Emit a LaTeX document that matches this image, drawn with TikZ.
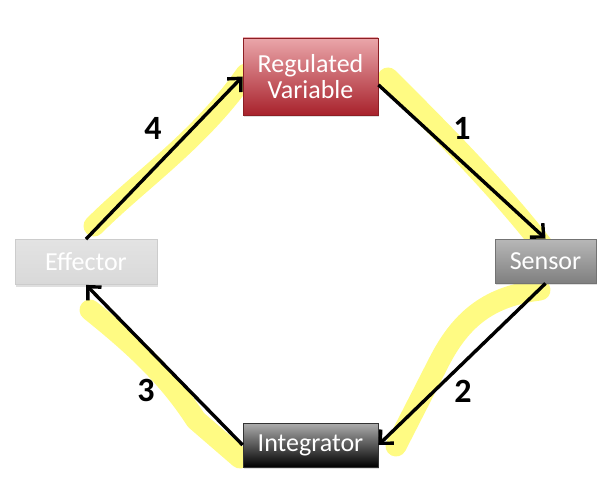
\documentclass[tikz,border=0pt]{standalone}
\usepackage{fontspec}
\setmainfont{Carlito}
\usetikzlibrary{arrows.meta,shadows}

\definecolor{rvtop}{RGB}{234,166,170}
\definecolor{rvbot}{RGB}{168,34,44}
\definecolor{rvline}{RGB}{140,30,36}
\definecolor{hilite}{RGB}{255,250,100}

\tikzset{
  box/.style={draw, rectangle, line width=0.8pt, text=white, align=center,
    font=\fontsize{26}{29}\selectfont, inner sep=0pt,
    drop shadow={opacity=0.25, shadow xshift=1pt, shadow yshift=-2pt}},
  flow/.style={line width=3.4pt, -{Straight Barb[length=10pt,width=19pt,line width=3.4pt]}},
  marker/.style={hilite, line width=21pt, line cap=round, line join=round, opacity=0.8},
  num/.style={font=\fontsize{34}{36}\selectfont\bfseries}
}

\begin{document}
\begin{tikzpicture}[x=1pt, y=-1pt]
      \useasboundingbox (0,0) rectangle (612,476);

      % Marcador amarelo
      \draw[marker] (94,226) .. controls (140,180) and (200,140) .. (246,74);
      \draw[marker] (388,78) .. controls (440,130) and (500,190) .. (546,250);
      \draw[marker] (540,290) .. controls (490,296) and (462,318) .. (440,360)
                    -- (396,446);
      \draw[marker] (90,310) .. controls (140,350) and (170,380) .. (196,420)
                    -- (240,458);

      % Caixas
      \node[box, minimum width=135pt, minimum height=77pt,
            top color=rvtop, bottom color=rvbot, draw=rvline] (regvar) at (310.5,76.5)
            {Regulated\\[-3pt]Variable};
      \node[box, minimum width=101pt, minimum height=44pt,
            top color=black!28, bottom color=black!50, draw=black!55] (sensor) at (545.5,261)
            {Sensor};
      \node[box, minimum width=135pt, minimum height=44pt,
            top color=black!32, bottom color=black, draw=black!80] (integ) at (310.5,445)
            {Integrator};
      \node[box, minimum width=142pt, minimum height=45pt,
            top color=black!11, bottom color=black!15, draw=black!20] (effector) at (86,262)
            {Effector};

      % Setas do ciclo
      \draw[flow] (regvar.-7) -- (sensor.north);
      \draw[flow] (sensor.south) -- (integ.east);
      \draw[flow] (integ.west) -- (effector.south);
      \draw[flow] (effector.north) -- (regvar.west);

      % Numeros
      \node[num] (n1) at (462,128) {1};
      \node[num] (n2) at (463,391) {2};
      \node[num] (n3) at (146,390) {3};
      \node[num] (n4) at (153,128) {4};
    \end{tikzpicture}
\end{document}
